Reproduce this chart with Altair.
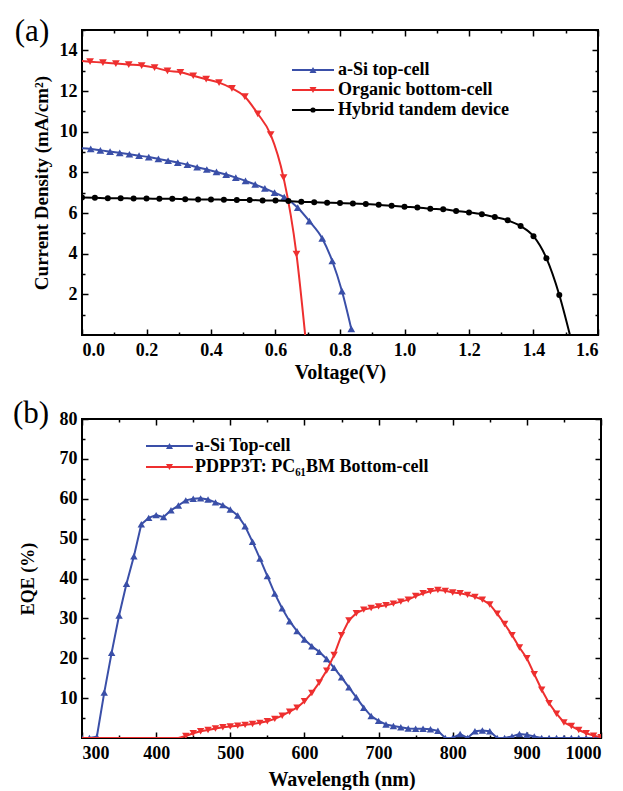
import altair as alt
import pandas as pd

FONT = "Liberation Serif"

# ---------------- Panel (a): J-V curves ----------------
v_asi = [0.0, 0.027, 0.057, 0.087, 0.117, 0.147, 0.177, 0.207, 0.237, 0.267, 0.297,
         0.327, 0.357, 0.387, 0.417, 0.447, 0.477, 0.507, 0.537, 0.567, 0.597, 0.627,
         0.669, 0.705, 0.745, 0.776, 0.806, 0.835]
j_asi = [9.18, 9.15, 9.08, 9.02, 8.96, 8.89, 8.82, 8.75, 8.66, 8.57, 8.48,
         8.38, 8.25, 8.14, 8.02, 7.89, 7.74, 7.58, 7.41, 7.21, 7.00, 6.78,
         6.26, 5.60, 4.75, 3.64, 2.16, 0.30]

v_org = [0.0, 0.025, 0.065, 0.105, 0.145, 0.185, 0.225, 0.265, 0.305, 0.345, 0.385,
         0.425, 0.465, 0.505, 0.545, 0.585, 0.625, 0.665, 0.692]
j_org = [13.47, 13.44, 13.40, 13.35, 13.30, 13.25, 13.15, 12.99, 12.92, 12.75, 12.58,
         12.41, 12.13, 11.72, 10.88, 9.86, 7.74, 3.98, 0.0]

v_hyb = [0.00, 0.04, 0.08, 0.12, 0.16, 0.20, 0.24, 0.28, 0.32, 0.36, 0.40, 0.44, 0.48,
         0.52, 0.56, 0.60, 0.64, 0.68, 0.72, 0.76, 0.80, 0.84, 0.88, 0.92, 0.96, 1.00,
         1.04, 1.08, 1.12, 1.16, 1.20, 1.24, 1.28, 1.32, 1.36, 1.40, 1.44, 1.48, 1.513]
j_hyb = [6.76, 6.75, 6.73, 6.73, 6.71, 6.71, 6.70, 6.70, 6.68, 6.67, 6.67, 6.65, 6.64,
         6.64, 6.62, 6.61, 6.59, 6.55, 6.53, 6.51, 6.49, 6.47, 6.44, 6.40, 6.36, 6.31,
         6.27, 6.21, 6.18, 6.10, 6.03, 5.94, 5.80, 5.64, 5.36, 4.86, 3.78, 1.97, 0.0]

series_a = ["a-Si top-cell", "Organic bottom-cell", "Hybrid tandem device"]
colors_a = ["#3a4fa8", "#ee2f2f", "#000000"]
shapes_a = ["triangle-up", "triangle-down", "circle"]
sizes_a = [60, 60, 36]

volt_ticks = [0.0, 0.2, 0.4, 0.6, 0.8, 1.0, 1.2, 1.4, 1.6]
volt_minor = [0.1, 0.3, 0.5, 0.7, 0.9, 1.1, 1.3, 1.5]
j_ticks = [2, 4, 6, 8, 10, 12, 14]
j_minor = [1, 3, 5, 7, 9, 11, 13, 15]

# ---------------- Panel (b): EQE ----------------
wavelength = [300, 310, 320, 330, 340, 350, 360, 370, 380, 390, 400, 410, 420, 430,
              440, 450, 460, 470, 480, 490, 500, 510, 520, 530, 540, 550, 560, 570,
              580, 590, 600, 610, 620, 630, 640, 650, 660, 670, 680, 690, 700, 710,
              720, 730, 740, 750, 760, 770, 780, 790, 800, 810, 820, 830, 840, 850,
              860, 870, 880, 890, 900, 910, 920, 930, 940, 950, 960, 970, 980, 990, 1000]
eqe_asi = [0, 0, 0.3, 11.4, 21.4, 30.7, 38.7, 45.6, 53.6, 55.2, 55.9, 55.4, 57.1, 58.3,
           59.6, 60.0, 60.1, 59.8, 59.1, 58.4, 57.3, 55.8, 53.1, 49.2, 45.0, 40.6, 36.2, 32.5,
           29.3, 26.8, 24.7, 23.0, 21.6, 19.8, 17.6, 15.2, 12.7, 10.2, 7.6, 5.5, 4.3, 3.4,
           3.0, 2.7, 2.4, 2.3, 2.3, 2.2, 1.8, 0, 0, 1.0, 0, 1.7, 1.9, 1.7,
           0, 0, 0.4, 1.0, 0.8, 0.4, 0, 0, 0, 0, 0, 0, 0, 0, 0]
eqe_pdpp = [0, 0, 0, 0, 0, 0, 0, 0, 0, 0, 0, 0, 0, 0,
            0.5, 1.2, 1.7, 2.0, 2.4, 2.7, 2.9, 3.1, 3.3, 3.5, 3.8, 4.2, 4.8, 5.6,
            6.6, 7.6, 9.2, 11.3, 13.9, 16.9, 20.8, 25.8, 29.5, 31.3, 32.2, 32.6, 33.0, 33.3,
            33.7, 34.2, 34.7, 35.6, 36.3, 36.8, 37.1, 36.9, 36.5, 36.3, 35.9, 35.4, 34.7, 33.5,
            31.2, 28.6, 25.8, 22.7, 20.0, 16.0, 12.1, 8.7, 6.1, 3.9, 3.0, 2.0, 1.2, 0.6, 0.2]

series_b = ["a-Si Top-cell", "PDPP3T: PC\u2086\u2081BM Bottom-cell"]
colors_b = ["#3a4fa8", "#ee2f2f"]
shapes_b = ["triangle-up", "triangle-down"]

wl_ticks = [300, 400, 500, 600, 700, 800, 900, 1000]
wl_minor = [350, 450, 550, 650, 750, 850, 950]
eqe_ticks = [10, 20, 30, 40, 50, 60, 70, 80]
eqe_minor = [5, 15, 25, 35, 45, 55, 65, 75]


def frame_axes(df, xf, yf, xsc, ysc, xmaj, xmin, ymaj, ymin, xlab, ylab,
               xtitle, ytitle, xfmt, yfmt, ytitlepad, xtitlepad, ytitlesize):
    base = alt.Chart(df).mark_point(opacity=0)
    out = [base.encode(
        x=alt.X(f"{xf}:Q", scale=xsc,
                axis=alt.Axis(orient="bottom", values=xlab, format=xfmt, ticks=False,
                              domain=False, labelPadding=6, title=xtitle,
                              titlePadding=xtitlepad, titleFontSize=20)),
        y=alt.Y(f"{yf}:Q", scale=ysc,
                axis=alt.Axis(orient="left", values=ylab, format=yfmt, ticks=False,
                              domain=False, labelPadding=5, title=ytitle,
                              titlePadding=ytitlepad, titleFontSize=ytitlesize)))]
    for ox, oy, vx, vy, ts in [("bottom", "left", xmaj, ymaj, 6),
                               ("bottom", "left", xmin, ymin, 3),
                               ("top", "right", xmaj, ymaj, 6),
                               ("top", "right", xmin, ymin, 3)]:
        out.append(base.encode(
            x=alt.X(f"{xf}:Q", scale=xsc,
                    axis=alt.Axis(orient=ox, values=vx, labels=False, ticks=True,
                                  tickSize=ts, offset=-ts, domain=False, title=None)),
            y=alt.Y(f"{yf}:Q", scale=ysc,
                    axis=alt.Axis(orient=oy, values=vy, labels=False, ticks=True,
                                  tickSize=ts, offset=-ts, domain=False, title=None))))
    return out


def legend_layers(labels, colors, shapes, sizes, x0, x1, xt, ys, fs):
    one = alt.Data(values=[{}])
    out = []
    for lab, col, shp, sz, yy in zip(labels, colors, shapes, sizes, ys):
        out.append(alt.Chart(one).mark_rule(color=col, strokeWidth=2).encode(
            x=alt.value(x0), x2=alt.value(x1), y=alt.value(yy)))
        out.append(alt.Chart(one).mark_point(filled=True, opacity=1).encode(
            x=alt.value((x0 + x1) / 2), y=alt.value(yy), color=alt.value(col),
            shape=alt.value(shp), size=alt.value(sz * 0.55)))
        out.append(alt.Chart(one).mark_text(font=FONT, fontSize=fs, fontWeight="bold",
                                            align="left", baseline="middle",
                                            color="black").encode(
            x=alt.value(xt), y=alt.value(yy), text=alt.value(lab)))
    return out


def panel_label(txt, dx, dy):
    return alt.Chart(alt.Data(values=[{}])).mark_text(
        font=FONT, fontSize=31, align="center", baseline="middle", color="black").encode(
        x=alt.value(dx), y=alt.value(dy), text=alt.value(txt))


# ----- build panel (a)
rows = []
for name, vs, js in zip(series_a, [v_asi, v_org, v_hyb], [j_asi, j_org, j_hyb]):
    for v, j in zip(vs, js):
        rows.append({"series": name, "V": v, "J": j})
df_a = pd.DataFrame(rows)

xs_a = alt.Scale(domain=[0, 1.6], nice=False, zero=False)
ys_a = alt.Scale(domain=[0, 15], nice=False, zero=False)

layers_a = []
for name, col, shp, sz in zip(series_a, colors_a, shapes_a, sizes_a):
    sub = alt.Chart(df_a).transform_filter(alt.datum.series == name)
    layers_a.append(sub.mark_line(color=col, strokeWidth=2, interpolate="monotone",
                                  clip=True).encode(
        x=alt.X("V:Q", scale=xs_a, axis=None), y=alt.Y("J:Q", scale=ys_a, axis=None),
        order="V:Q"))
    cond = "datum.J > 0.05" if name == series_a[2] else "datum.J > 0.05 && datum.V > 0"
    layers_a.append(sub.transform_filter(cond).mark_point(
        filled=True, opacity=1, color=col, shape=shp, size=sz, clip=True).encode(
        x=alt.X("V:Q", scale=xs_a, axis=None), y=alt.Y("J:Q", scale=ys_a, axis=None)))

layers_a += frame_axes(df_a, "V", "J", xs_a, ys_a, volt_ticks, volt_minor, j_ticks,
                       j_minor, volt_ticks, j_ticks, "Voltage(V)",
                       "Current Density (mA/cm\u00b2)", ".1f", "d", 8, 3, 19)
layers_a += legend_layers(series_a, colors_a, shapes_a, [90, 90, 50], 210, 252, 256,
                          [40, 60, 80], 18)
layers_a.append(panel_label("(a)", -50, 2))

panel_a = alt.layer(*layers_a).resolve_axis(x="independent", y="independent").properties(
    width=516, height=305)

# ----- build panel (b)
rows = []
for name, es in zip(series_b, [eqe_asi, eqe_pdpp]):
    for w, e in zip(wavelength, es):
        rows.append({"series": name, "W": w, "E": e})
df_b = pd.DataFrame(rows)

xs_b = alt.Scale(domain=[300, 1000], nice=False, zero=False)
ys_b = alt.Scale(domain=[0, 80], nice=False, zero=False)

layers_b = []
for name, col, shp in zip(series_b, colors_b, shapes_b):
    sub = alt.Chart(df_b).transform_filter(alt.datum.series == name)
    layers_b.append(sub.mark_line(color=col, strokeWidth=2, clip=True).encode(
        x=alt.X("W:Q", scale=xs_b, axis=None), y=alt.Y("E:Q", scale=ys_b, axis=None),
        order="W:Q"))
    cond = "true" if name == series_b[0] else "datum.E > 0"
    layers_b.append(sub.transform_filter(cond).mark_point(
        filled=True, opacity=1, color=col, shape=shp, size=55, clip=True).encode(
        x=alt.X("W:Q", scale=xs_b, axis=None), y=alt.Y("E:Q", scale=ys_b, axis=None)))

layers_b += frame_axes(df_b, "W", "E", xs_b, ys_b, wl_ticks, wl_minor, eqe_ticks,
                       eqe_minor, wl_ticks, eqe_ticks, "Wavelength (nm)", "EQE (%)",
                       "d", "d", 22, 7, 18)
layers_b += legend_layers(series_b, colors_b, shapes_b, [90, 90], 64, 111, 113,
                          [27, 48], 18)
layers_b.append(panel_label("(b)", -51, -5))

panel_b = alt.layer(*layers_b).resolve_axis(x="independent", y="independent").properties(
    width=519, height=319)

chart = alt.vconcat(panel_a, panel_b, spacing=14).properties(
    padding={"left": 3, "top": 7, "right": 0, "bottom": 0}
).configure_view(stroke="black", strokeWidth=2).configure_axis(
    grid=False, labelFont=FONT, labelFontSize=18, labelFontWeight="bold",
    labelColor="black", titleFont=FONT, titleFontSize=18, titleFontWeight="bold",
    titleColor="black", tickColor="black", tickWidth=1.5)

chart.save("out.html", embed_options={"renderer": "svg", "actions": False})
